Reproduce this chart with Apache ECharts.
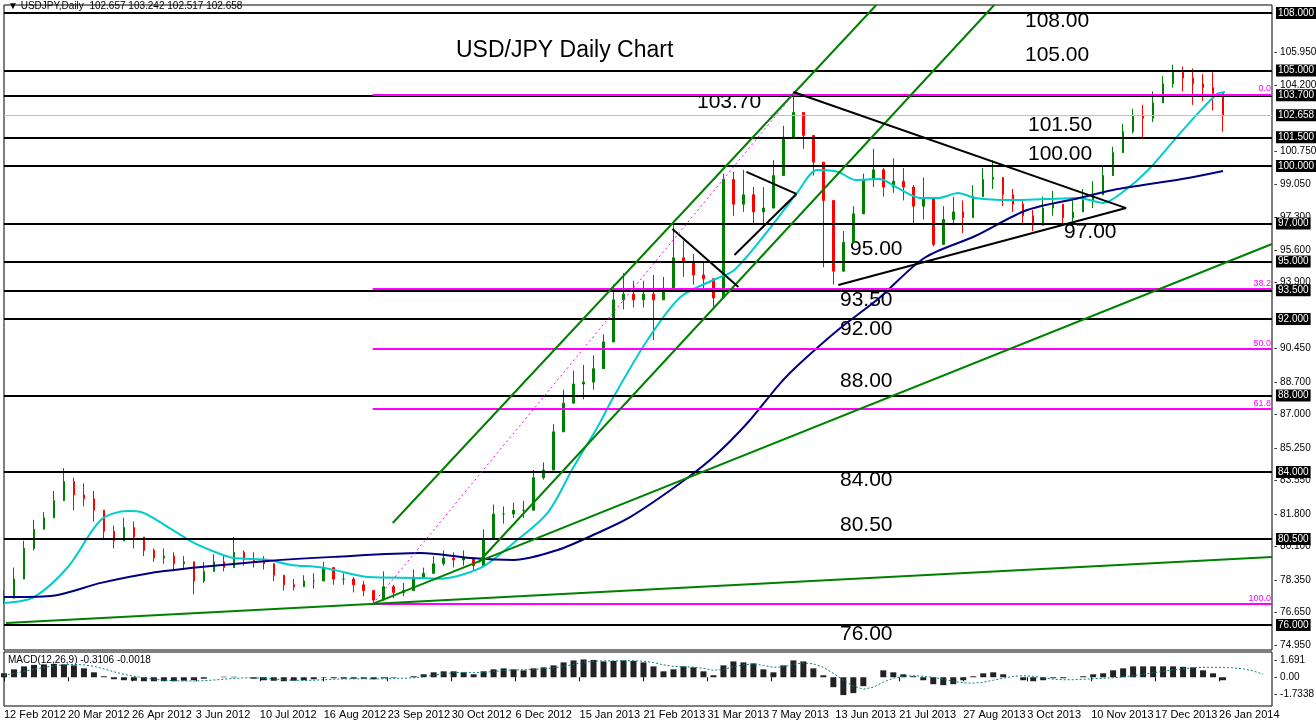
<!DOCTYPE html>
<html><head><meta charset="utf-8">
<script src="https://cdn.jsdelivr.net/npm/echarts@6/dist/echarts.min.js"></script>
<style>html,body{margin:0;padding:0;background:#fff}#c{width:1316px;height:720px}</style>
</head><body><div id="c"></div>
<script>
// ---- data (one sample bar ≈ 4 trading days) ----
const dateLabels=['12 Feb 2012','20 Mar 2012','26 Apr 2012','3 Jun 2012','10 Jul 2012','16 Aug 2012','23 Sep 2012','30 Oct 2012','6 Dec 2012','15 Jan 2013','21 Feb 2013','31 Mar 2013','7 May 2013','13 Jun 2013','21 Jul 2013','27 Aug 2013','3 Oct 2013','10 Nov 2013','17 Dec 2013','26 Jan 2014'];
const firstOpen=77.3;
const closes=[77.4,78.4,80.0,81.0,81.6,82.5,83.5,82.8,82.6,82.0,80.9,80.4,81.1,80.6,79.9,79.5,79.6,79.2,79.3,78.3,78.8,79.3,79.0,79.8,79.4,79.3,79.2,78.6,78.1,78.0,78.3,78.3,79.0,78.4,78.4,78.1,77.8,77.3,78.0,77.7,77.8,78.5,78.7,79.2,79.5,79.4,79.5,79.1,80.5,81.8,81.8,82.0,82.0,83.7,84.1,86.1,87.6,88.6,88.7,89.4,90.8,93.0,93.3,93.0,93.3,93.0,93.5,95.2,95.0,94.3,94.1,93.1,99.3,98.0,98.5,97.6,97.8,99.5,101.5,102.8,101.6,100.2,98.2,94.5,96.0,97.5,99.3,99.8,98.9,99.2,98.9,97.9,98.3,95.9,97.2,97.6,97.3,98.4,99.3,99.4,98.5,98.0,97.4,96.9,97.8,98.0,97.3,97.6,98.2,98.5,99.5,100.7,101.8,102.6,102.5,103.3,104.3,104.9,104.6,104.3,104.1,103.8,102.658];
const highs=[77.8,79.0,80.4,81.5,81.9,83.0,84.2,83.7,83.4,83.0,81.9,81.2,81.6,81.4,80.4,80.0,80.0,79.8,79.6,79.0,79.3,79.7,79.6,80.6,79.9,79.8,79.6,79.1,78.5,78.4,78.6,78.7,79.3,78.9,78.7,78.5,78.3,77.8,78.8,78.1,78.2,78.9,79.0,79.6,79.9,79.8,79.9,79.4,81.0,82.3,82.2,82.4,82.5,84.1,84.5,86.5,88.3,89.3,89.6,90.1,91.2,93.8,94.4,94.0,94.0,94.3,94.2,96.9,96.1,95.4,95.0,94.0,99.6,99.7,99.8,98.9,98.9,100.3,102.1,103.7,102.8,101.4,99.8,97.4,96.6,97.9,99.6,100.9,99.9,100.4,99.9,99.0,99.4,97.4,97.9,98.4,98.2,99.0,99.9,100.3,99.2,98.8,98.2,97.7,98.4,98.7,98.0,98.2,98.8,99.2,100.0,101.0,102.2,103.0,103.2,103.9,104.7,105.3,105.2,105.1,104.8,104.9,103.242];
const lows=[77.1,78.1,79.7,79.9,81.0,81.9,82.9,82.0,82.2,81.4,80.5,80.0,80.6,80.0,79.6,79.3,79.2,78.8,78.9,77.6,78.2,79.0,78.8,79.2,79.1,79.0,78.9,78.3,77.8,77.8,78.0,77.9,78.6,78.1,78.1,77.7,77.5,77.1,77.5,77.4,77.5,78.2,78.4,78.9,79.1,79.0,79.1,78.8,79.5,81.4,81.3,81.6,81.6,83.4,83.6,85.5,86.9,88.2,87.8,88.3,90.3,91.8,92.5,92.6,92.6,90.9,93.0,94.5,94.2,93.8,93.5,92.6,94.4,97.4,97.6,97.0,96.9,98.9,100.5,101.7,100.9,99.5,94.7,93.8,94.7,96.2,98.0,98.9,98.4,98.6,98.2,97.0,97.2,95.8,96.6,96.9,96.5,97.5,98.6,98.8,97.9,97.6,96.9,96.6,97.2,97.4,97.0,97.1,97.6,97.8,98.7,99.9,100.8,101.7,101.5,102.3,103.6,104.1,103.9,103.2,103.4,102.9,101.8];
const ma50=[[0,77.15],[3,77.46],[6.4,79.03],[9.7,81.49],[12.4,81.96],[13.7,81.91],[16.4,81.12],[19,80.29],[21.4,79.76],[23,79.5],[26.4,79.4],[28.7,79.14],[31.4,79.03],[33,78.88],[36.4,78.51],[41.7,78.46],[43.4,78.41],[47.7,78.98],[51,80.29],[54.4,81.86],[57,84.26],[59.4,86.35],[61,87.92],[64.4,90.9],[67.7,93.15],[71,94.04],[73.1,94.56],[76.6,96.71],[79.3,98.54],[81.4,99.79],[83.5,99.69],[85.2,99.27],[87.6,99.32],[89.3,98.9],[91.7,98.33],[93.5,98.33],[95.5,98.59],[97.2,98.33],[100.7,98.22],[104.1,98.27],[107.6,98.33],[110,98.07],[112.1,98.69],[114.5,99.79],[117.2,101.41],[119.6,102.82],[121.4,103.76],[122.2,103.87]];
const ma200=[[0,77.46],[4.7,77.52],[9.7,78.2],[14.7,78.72],[19.7,79.03],[26.4,79.35],[33,79.56],[41.7,79.76],[46.7,79.5],[51,79.4],[55.4,79.92],[59.4,80.81],[62.7,81.65],[67.7,83.42],[71,84.78],[74.4,86.56],[77.7,88.65],[79.7,89.7],[83.7,91.53],[87.6,93.1],[92.1,95.19],[97.2,96.34],[102.4,97.7],[107.6,98.33],[111,98.75],[117.9,99.32],[122,99.74]];
const macdHist=[0.4,0.8,1.1,1.25,1.3,1.35,1.3,1.2,0.9,0.5,0.1,-0.2,-0.3,-0.35,-0.4,-0.4,-0.4,-0.4,-0.35,-0.3,-0.15,0,0.05,0.05,0,-0.15,-0.3,-0.35,-0.4,-0.35,-0.3,-0.2,-0.05,-0.1,-0.15,-0.15,-0.15,-0.2,-0.1,-0.05,0,0.1,0.3,0.5,0.6,0.6,0.5,0.3,0.6,0.8,0.9,0.8,0.7,0.9,1.0,1.2,1.5,1.7,1.8,1.75,1.6,1.65,1.7,1.65,1.5,1.1,0.6,0.8,1.1,1.0,0.6,0.2,1.2,1.6,1.5,1.4,0.8,0.5,1.2,1.7,1.6,0.9,0.2,-1.0,-1.8,-1.6,-0.9,0,0.7,0.5,0.3,0.1,-0.3,-0.7,-0.8,-0.7,-0.3,0.1,0.4,0.5,0.3,0,-0.3,-0.4,-0.3,-0.1,-0.1,0,0.1,0.3,0.4,0.7,0.9,1.1,1.1,1.1,1.1,1.1,1.05,1.0,0.7,0.4,-0.3];
const macdSignal=[0.2,0.4,0.6,0.8,1.0,1.15,1.25,1.3,1.25,1.1,0.85,0.55,0.3,0.1,-0.05,-0.2,-0.3,-0.35,-0.38,-0.38,-0.35,-0.28,-0.2,-0.12,-0.06,-0.05,-0.1,-0.18,-0.25,-0.3,-0.32,-0.3,-0.25,-0.2,-0.17,-0.16,-0.16,-0.17,-0.16,-0.13,-0.1,-0.05,0.05,0.2,0.35,0.45,0.5,0.48,0.5,0.58,0.68,0.75,0.75,0.8,0.85,0.95,1.1,1.3,1.5,1.62,1.65,1.65,1.67,1.67,1.62,1.48,1.25,1.1,1.05,1.03,0.9,0.7,0.8,1.05,1.25,1.35,1.2,1.0,1.05,1.3,1.45,1.35,1.0,0.4,-0.3,-0.9,-1.2,-1.0,-0.5,-0.1,0.1,0.15,0.1,0,-0.2,-0.4,-0.55,-0.6,-0.5,-0.3,-0.1,0.1,0.15,0.1,-0.05,-0.2,-0.25,-0.25,-0.2,-0.15,-0.1,-0.05,0.05,0.15,0.3,0.45,0.6,0.75,0.85,0.95,1.0,1.0,1.0,0.95,0.85,0.65,0.3];
const levelLines=[108,105,103.7,101.5,100,97,95,93.5,92,88,84,80.5,76];
const currentPrice=102.658;
const plainTicks=[105.95,104.2,100.75,99.05,97.3,95.6,93.9,90.45,88.7,87.0,85.25,83.55,81.8,80.1,78.35,76.65,74.95];
const fibLevels=[103.75,93.58,90.44,87.29,77.12];
const fibNames=['0.0','38.2','50.0','61.8','100.0'];
const fibStart=36.9;
const greenLines=[[[0.2,76.10],[126.9,79.55]],[[36.9,77.10],[126.9,95.92]],[[38.9,81.33],[87.3,108.42]],[[47.5,79.29],[99.1,108.42]]];
const blackLines=[[[79,103.87],[112.3,97.8]],[[83.5,93.78],[112.3,97.8]],[[74.3,99.69],[79.3,98.54]],[[73.1,95.35],[79.3,98.54]],[[66.9,96.71],[73.5,93.67]]];
const fibDiag=[[36.9,77.10],[79.2,103.87]];
const macdTicks=[1.691,0,-1.7338];
const macdTickText=['1.691','0.00','-1.7338'];
// ---- build ----
const XMAX=126.9, TI=6.4;
const ohlc=closes.map((c,i)=>[i,i===0?firstOpen:closes[i-1],c,lows[i],highs[i]]);
const F='Liberation Sans';
const boxLbl=v=>({show:true,position:'end',distance:4,formatter:v.toFixed(3),color:'#fff',backgroundColor:'#000',padding:[1,2],fontFamily:F,fontSize:10});
const tickLbl=t=>({show:true,position:'end',distance:2,formatter:'- '+t,color:'#000',fontFamily:F,fontSize:10});
const noLine={color:'rgba(0,0,0,0)',width:1,type:'solid'};
const mlData=[];
plainTicks.forEach(v=>mlData.push({yAxis:v,lineStyle:noLine,label:tickLbl(v.toFixed(3))}));
levelLines.forEach(v=>mlData.push({yAxis:v,lineStyle:{color:'#000',width:2,type:'solid'},label:boxLbl(v)}));
mlData.push({yAxis:currentPrice,lineStyle:{color:'#c0c0c0',width:1,type:'solid'},label:boxLbl(currentPrice)});
fibLevels.forEach((v,k)=>mlData.push([{coord:[fibStart,v],lineStyle:{color:'#ff00ff',width:2,type:'solid'},label:{show:true,position:'insideEndTop',formatter:fibNames[k],color:'#ff00ff',fontFamily:F,fontSize:9,distance:1}},{coord:[XMAX,v]}]));
greenLines.forEach(l=>mlData.push([{coord:l[0],lineStyle:{color:'#008000',width:2,type:'solid'},label:{show:false}},{coord:l[1]}]));
blackLines.forEach(l=>mlData.push([{coord:l[0],lineStyle:{color:'#000',width:2,type:'solid'},label:{show:false}},{coord:l[1]}]));
mlData.push([{coord:fibDiag[0],lineStyle:{color:'#ff00ff',width:1,type:[2,3]},label:{show:false}},{coord:fibDiag[1]}]);
const macdMl=macdTicks.map((v,k)=>({yAxis:v,lineStyle:noLine,label:tickLbl(macdTickText[k])}));
const ann=(t,x,y)=>({type:'text',left:x,top:y,style:{text:t,font:'21px "Liberation Sans"',fill:'#000'}});
const option={
 animation:false,
 grid:[{left:4,right:44,top:5,height:645,show:true,borderColor:'#000',borderWidth:1},
       {left:4,right:44,top:652,height:54,show:true,borderColor:'#000',borderWidth:1}],
 xAxis:[{type:'value',gridIndex:0,min:0,max:XMAX,interval:TI,axisLabel:{show:false},axisTick:{show:false},axisLine:{show:false},splitLine:{show:false}},
        {type:'value',gridIndex:1,min:0,max:XMAX,interval:TI,axisLine:{show:false},axisTick:{show:true,inside:false,length:4,lineStyle:{color:'#000'}},splitLine:{show:false},
         axisLabel:{showMaxLabel:false,align:'left',margin:3,fontFamily:F,fontSize:11,color:'#000',formatter:v=>dateLabels[Math.round(v/TI)]||''}}],
 yAxis:[{type:'value',gridIndex:0,min:74.69,max:108.42,position:'right',axisLabel:{show:false},axisTick:{show:false},axisLine:{show:false},splitLine:{show:false}},
        {type:'value',gridIndex:1,min:-2.9,max:2.55,position:'right',axisLabel:{show:false},axisTick:{show:false},axisLine:{show:false},splitLine:{show:false}}],
 series:[
  {type:'candlestick',xAxisIndex:0,yAxisIndex:0,data:ohlc,encode:{x:0,y:[1,2,3,4]},barWidth:2,
   itemStyle:{color:'#008000',color0:'#ff0000',borderColor:'#008000',borderColor0:'#ff0000',borderWidth:1},
   markLine:{symbol:'none',silent:true,animation:false,data:mlData}},
  {type:'line',xAxisIndex:0,yAxisIndex:0,data:ma50,showSymbol:false,smooth:0.3,lineStyle:{color:'#00cccc',width:2},z:3},
  {type:'line',xAxisIndex:0,yAxisIndex:0,data:ma200,showSymbol:false,smooth:0.3,lineStyle:{color:'#000080',width:2},z:3},
  {type:'bar',xAxisIndex:1,yAxisIndex:1,data:macdHist.map((v,i)=>[i,v]),barWidth:6,itemStyle:{color:'#222'},
   markLine:{symbol:'none',silent:true,data:macdMl}},
  {type:'line',xAxisIndex:1,yAxisIndex:1,data:macdSignal.map((v,i)=>[i,v]),showSymbol:false,lineStyle:{color:'#008080',width:1,type:[2,2]}}
 ],
 graphic:[
  {type:'text',left:8,top:1,style:{text:'▼ USDJPY,Daily  102.657 103.242 102.517 102.658',font:'10px "Liberation Sans"',fill:'#000'}},
  {type:'text',left:8,top:655,style:{text:'MACD(12,26,9) -0.3106 -0.0018',font:'10px "Liberation Sans"',fill:'#000'}},
  {type:'text',left:456,top:39,style:{text:'USD/JPY Daily Chart',font:'23px "Liberation Sans"',fill:'#000'}},
  ann('108.00',1025,11),ann('105.00',1025,45),ann('103.70',697,92),ann('101.50',1028,115),ann('100.00',1028,144),
  ann('97.00',1064,222),ann('95.00',850,239),ann('93.50',840,290),ann('92.00',840,319),ann('88.00',840,371),
  ann('84.00',840,470),ann('80.50',840,515),ann('76.00',840,624)
 ]
};
echarts.init(document.getElementById('c')).setOption(option);
</script></body></html>
